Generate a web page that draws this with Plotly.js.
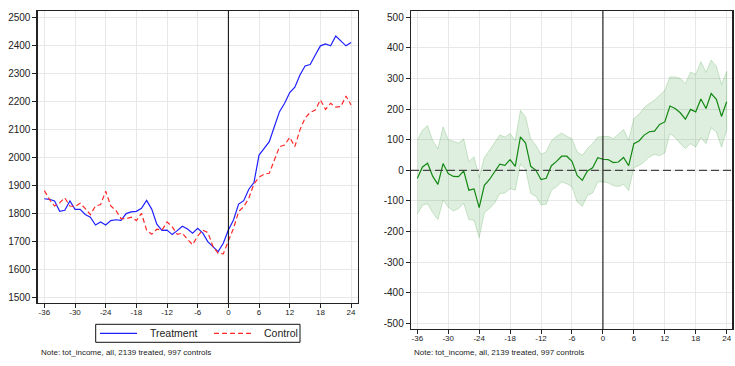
<!DOCTYPE html>
<html>
<head>
<meta charset="utf-8">
<script src="https://cdn.plot.ly/plotly-3.0.1.min.js"></script>
<style>html,body{margin:0;padding:0;background:#fff;}#chart{width:735px;height:366px;}</style>
</head>
<body>
<div id="chart"></div>
<script>
// Months relative to event
var months = [];
for (var m = -36; m <= 24; m++) months.push(m);

var treatment = [1852,1850,1844,1807,1811,1844,1814,1814,1796,1786,1758,1769,1758,1774,1777,1775,1799,1805,1807,1818,1846,1815,1761,1739,1740,1724,1738,1754,1744,1729,1746,1729,1698,1681,1663,1693,1740,1776,1833,1845,1886,1910,2008,2032,2056,2110,2163,2193,2231,2250,2294,2326,2331,2365,2398,2405,2398,2433,2417,2398,2410];

var control = [1881,1850,1826,1838,1855,1826,1824,1836,1817,1795,1826,1831,1879,1826,1810,1781,1781,1786,1774,1800,1740,1725,1743,1740,1769,1752,1725,1729,1707,1688,1719,1740,1731,1681,1657,1655,1702,1746,1806,1824,1854,1905,1929,1940,1943,1990,2038,2044,2071,2038,2098,2140,2160,2169,2205,2171,2193,2179,2181,2219,2187];

var estimate = [-27,11,23,-20,-46,22,-11,-20,-21,-2,-65,-61,-122,-49,-30,-5,20,16,35,13,109,89,13,0,-30,-26,15,29,46,46,29,-17,-33,-2,8,41,36,35,25,27,42,15,87,96,115,126,128,150,158,210,202,188,167,199,191,233,202,251,232,176,224];

var upper = [98,131,146,96,70,142,100,95,89,102,28,44,-24,41,65,87,115,109,120,98,196,174,103,82,52,60,96,111,122,111,103,60,49,71,87,109,111,111,103,118,133,98,169,183,205,218,229,245,261,305,305,300,283,321,314,355,320,360,340,280,323];

var lower = [-144,-114,-109,-139,-161,-98,-120,-133,-125,-107,-161,-163,-220,-139,-125,-107,-76,-74,-60,-65,20,4,-76,-85,-113,-111,-65,-54,-38,-44,-54,-103,-118,-82,-74,-38,-38,-41,-50,-53,-46,-66,9,16,27,44,52,48,57,120,107,87,71,87,76,107,87,139,125,76,131];

var xTicks = [-36,-30,-24,-18,-12,-6,0,6,12,18,24];
var yTicksLeft = [1500,1600,1700,1800,1900,2000,2100,2200,2300,2400,2500];
var yTicksRight = [-500,-400,-300,-200,-100,0,100,200,300,400,500];
var seriesNames = ['Treatment', 'Control'];
var noteText = "Note: tot_income, all, 2139 treated, 997 controls";
var eventMonth = 0;
var zeroLine = 0;

var blue = '#1f1fff', red = '#ff2a2a', redDash = '5px,3px';
var FONT = 'Liberation Sans, Arial, sans-serif';

var bandX = months.concat(months.slice().reverse());
var bandY = upper.concat(lower.slice().reverse());

var traces = [
  {x: months, y: treatment, type: 'scatter', mode: 'lines', name: seriesNames[0], showlegend: false,
   line: {color: blue, width: 1.2}, xaxis: 'x', yaxis: 'y'},
  {x: months, y: control, type: 'scatter', mode: 'lines', name: seriesNames[1], showlegend: false,
   line: {color: red, width: 1.2, dash: redDash}, xaxis: 'x', yaxis: 'y'},
  {x: bandX, y: bandY, type: 'scatter', mode: 'lines', fill: 'toself',
   fillcolor: 'rgba(40,150,40,0.15)', line: {color: 'rgba(40,150,40,0.22)', width: 1},
   showlegend: false, xaxis: 'x2', yaxis: 'y2', hoverinfo: 'skip'},
  {x: months, y: estimate, type: 'scatter', mode: 'lines', showlegend: false,
   line: {color: '#118811', width: 1.2}, xaxis: 'x2', yaxis: 'y2'}
];

var tickFontX = {family: FONT, size: 8, color: '#222'};
var tickFontY = {family: FONT, size: 10, color: '#222'};

function xAxis(domain, range, anchor) {
  return {domain: domain, range: range, anchor: anchor, tickmode: 'array', tickvals: xTicks,
    ticktext: xTicks.map(String), ticks: 'outside', ticklen: 4, tickcolor: '#222',
    ticklabelstandoff: -3,
    showline: true, linecolor: '#222', linewidth: 1, mirror: true,
    showgrid: true, gridcolor: '#e8e8e8', gridwidth: 1, zeroline: false,
    tickfont: tickFontX, fixedrange: true};
}
function yAxis(domain, range, anchor, vals) {
  return {domain: domain, range: range, anchor: anchor, tickmode: 'array', tickvals: vals,
    ticktext: vals.map(String), ticks: 'outside', ticklen: 4, tickcolor: '#222',
    showline: true, linecolor: '#222', linewidth: 1.3, mirror: true,
    showgrid: true, gridcolor: '#e8e8e8', gridwidth: 1, zeroline: false,
    tickfont: tickFontY, fixedrange: true};
}

// legend box geometry in pixels (converted to paper fractions)
function px(x) { return x / 735; }
function py(y) { return 1 - y / 366; }
var legTop = 324.3, legBot = 342.3, legMid = (legTop + legBot) / 2;

var layout = {
  width: 735, height: 366,
  margin: {l: 0, r: 0, t: 0, b: 0},
  paper_bgcolor: '#fff', plot_bgcolor: '#fff',
  showlegend: false,
  xaxis: xAxis([0.0513, 0.4867], [-37.3, 25.3], 'y'),
  yaxis: yAxis([0.1713, 0.970], [1478.6, 2522.5], 'x', yTicksLeft),
  xaxis2: xAxis([0.5592, 0.9963], [-37.22, 25.09], 'y2'),
  yaxis2: yAxis([0.1003, 0.970], [-519.6, 520.6], 'x2', yTicksRight),
  shapes: [
    {type: 'line', xref: 'x', yref: 'y domain', x0: eventMonth, x1: eventMonth, y0: 0, y1: 1,
     line: {color: '#000', width: 1}},
    {type: 'line', xref: 'x2', yref: 'y2 domain', x0: eventMonth, x1: eventMonth, y0: 0, y1: 1,
     line: {color: '#000', width: 1}},
    {type: 'line', xref: 'x2 domain', yref: 'y2', x0: 0, x1: 1, y0: zeroLine, y1: zeroLine,
     line: {color: '#444', width: 1.3, dash: '8px,4px'}},
    // legend
    {type: 'rect', xref: 'paper', yref: 'paper', x0: px(95.7), x1: px(300), y0: py(legBot), y1: py(legTop),
     line: {color: '#111', width: 1}, fillcolor: 'rgba(0,0,0,0)'},
    {type: 'line', xref: 'paper', yref: 'paper', x0: px(100), x1: px(137), y0: py(legMid), y1: py(legMid),
     line: {color: blue, width: 1.2}},
    {type: 'line', xref: 'paper', yref: 'paper', x0: px(214), x1: px(251), y0: py(legMid), y1: py(legMid),
     line: {color: red, width: 1.2, dash: redDash}}
  ],
  annotations: [
    {text: seriesNames[0], xref: 'paper', yref: 'paper', x: px(148), y: py(legMid),
     xanchor: 'left', yanchor: 'middle', showarrow: false,
     font: {family: FONT, size: 10.5, color: '#222'}},
    {text: seriesNames[1], xref: 'paper', yref: 'paper', x: px(262), y: py(legMid),
     xanchor: 'left', yanchor: 'middle', showarrow: false,
     font: {family: FONT, size: 10.5, color: '#222'}},
    {text: noteText, xref: 'paper', yref: 'paper', x: px(39), y: py(352),
     xanchor: 'left', yanchor: 'middle', showarrow: false,
     font: {family: FONT, size: 8, color: '#222'}},
    {text: noteText, xref: 'paper', yref: 'paper', x: px(412), y: py(352),
     xanchor: 'left', yanchor: 'middle', showarrow: false,
     font: {family: FONT, size: 8, color: '#222'}}
  ],
  hovermode: false
};

Plotly.newPlot('chart', traces, layout, {displayModeBar: false, staticPlot: true});
</script>
</body>
</html>
